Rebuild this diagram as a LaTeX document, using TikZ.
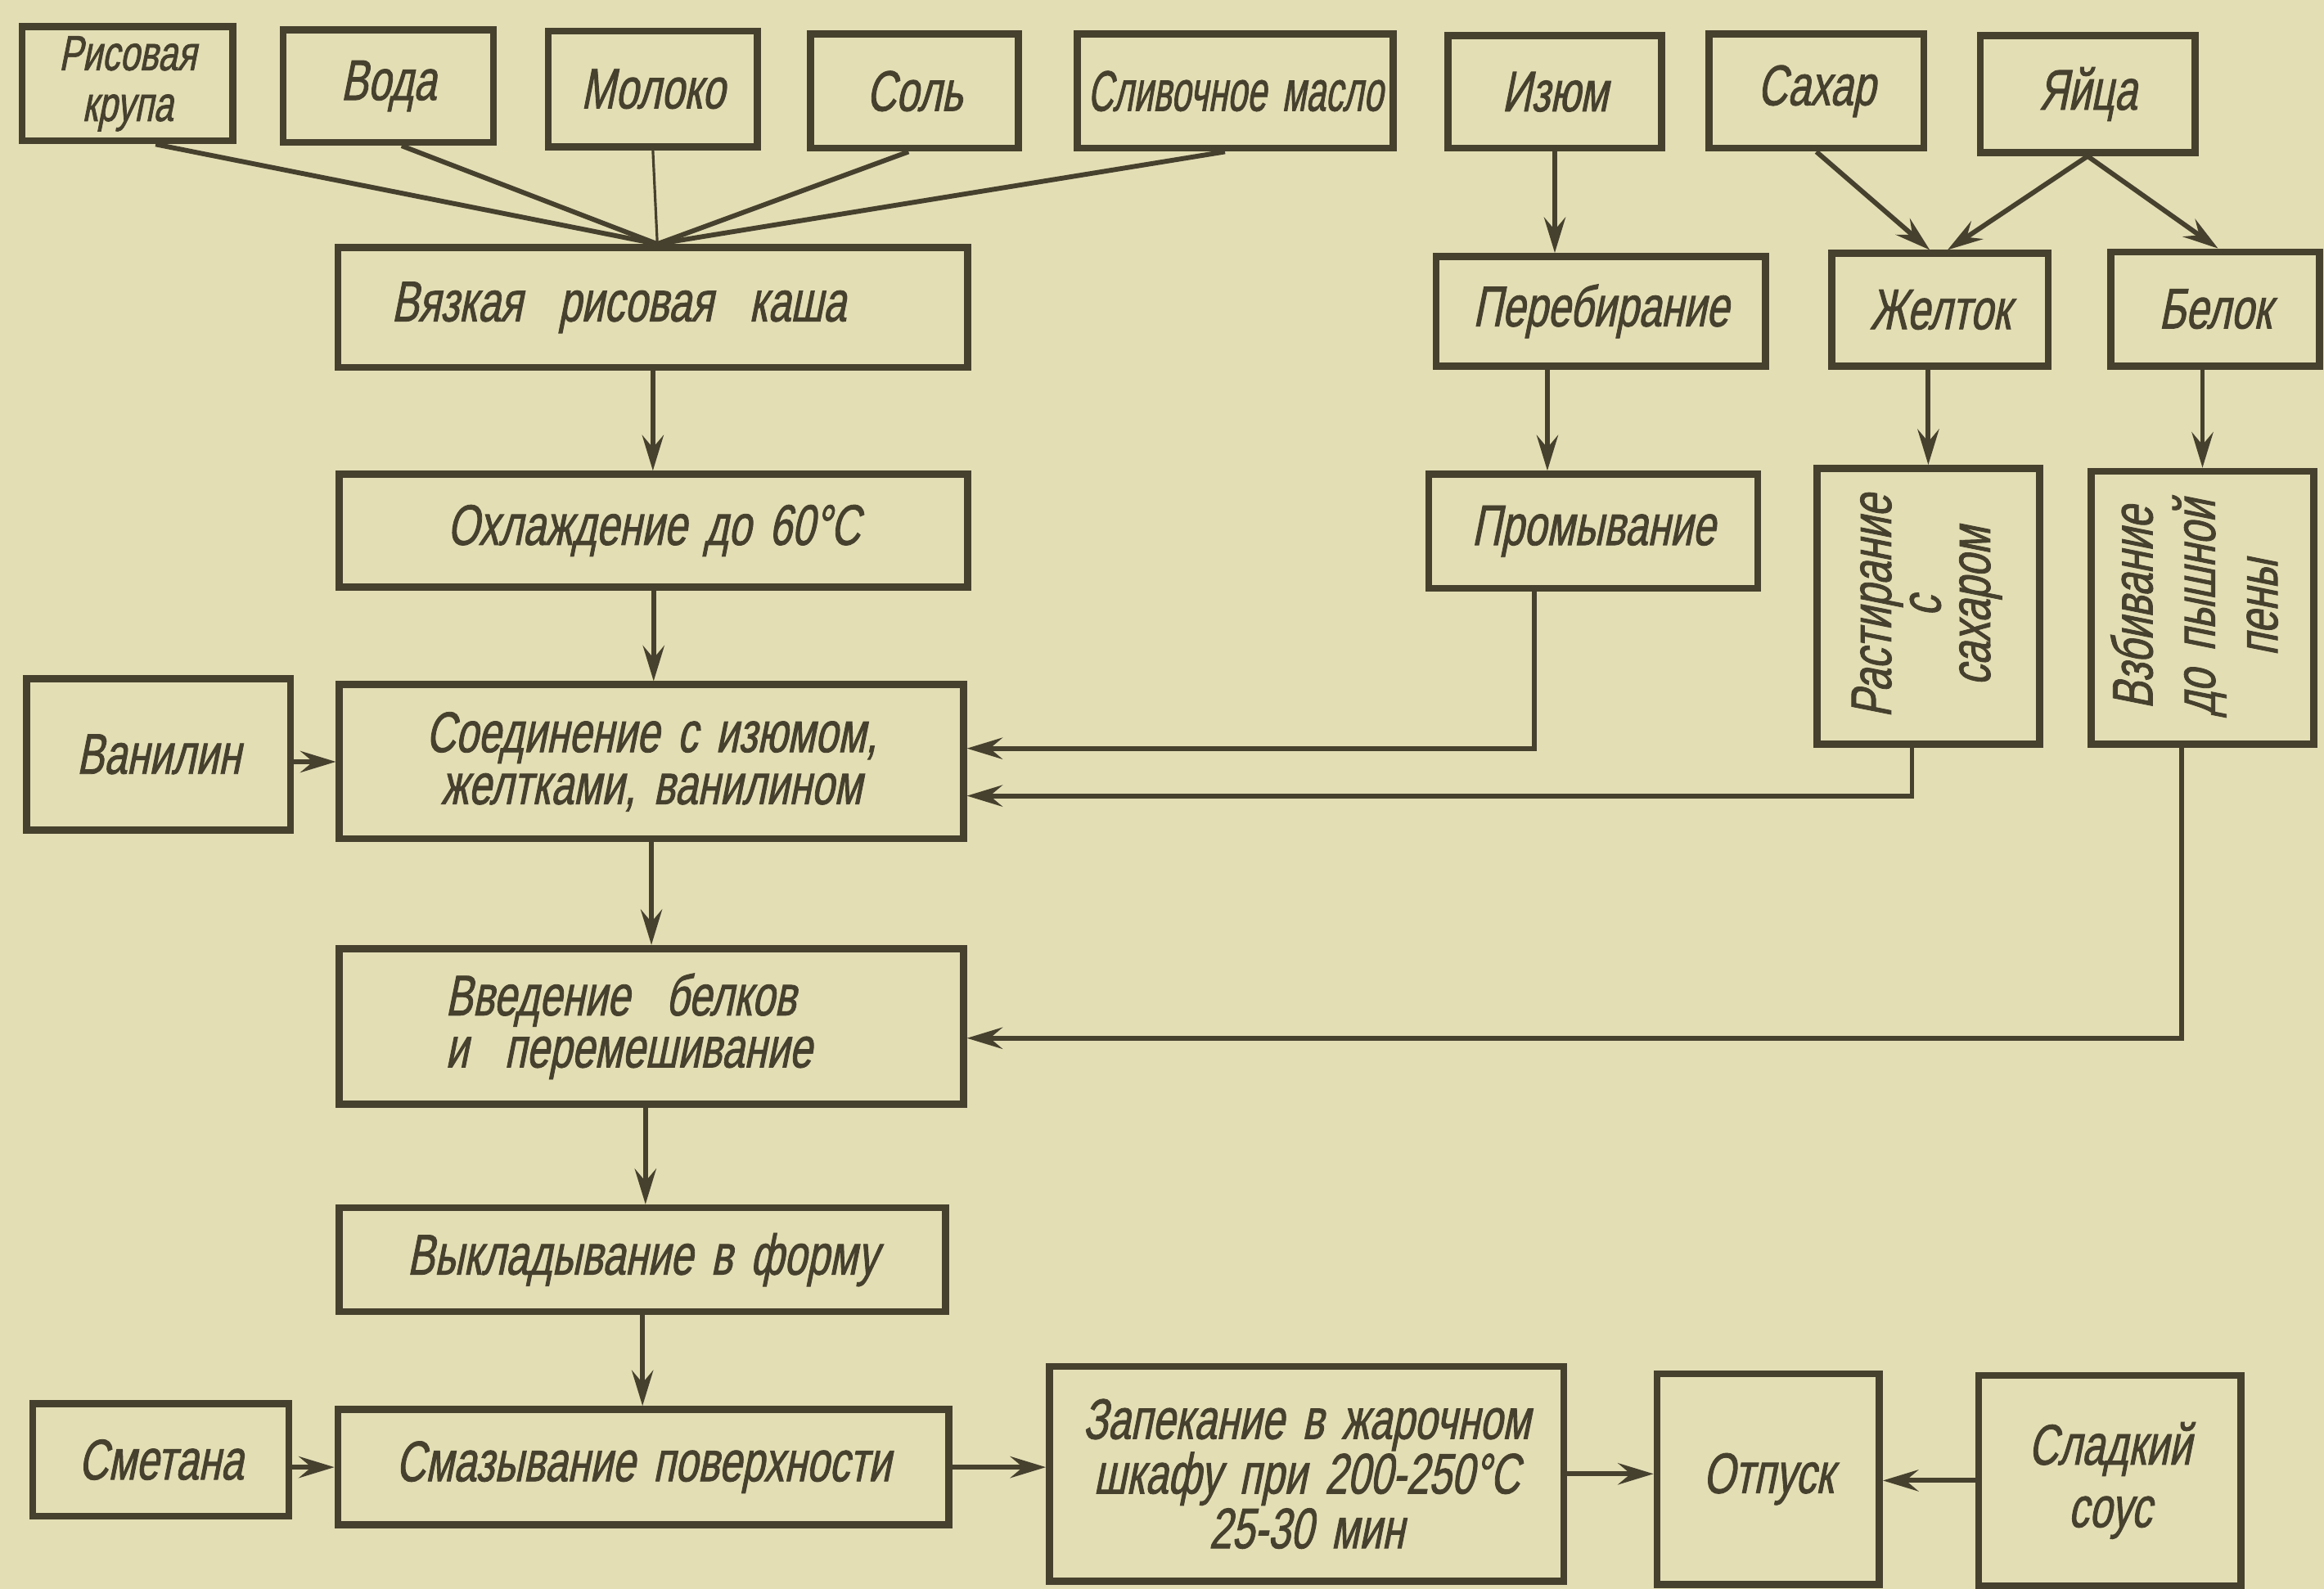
\documentclass[tikz,border=0pt]{standalone}
\usepackage{fontspec}
\newfontfamily\draftfont{Liberation Sans}[FakeStretch=0.71,FakeSlant=0.2,FakeBold=1.2,WordSpace=1.6]
\usetikzlibrary{calc,arrows.meta}
\definecolor{paper}{RGB}{227,222,180}
\definecolor{ink}{RGB}{70,64,46}

\tikzset{
  box/.style={draw=ink, line width=0.095cm, inner sep=0pt,
    font={\draftfont\fontsize{22}{20}\selectfont}, text=ink, align=center},
  link/.style={draw=ink, line width=0.065cm},
  arr/.style={link, -{Stealth[length=0.48cm,width=0.29cm,inset=0.17cm]}},
}

% box given by its corners (x1,y1) and (x2,y2) in picture units
\newcommand\bx[7][]{%
  \pgfmathsetmacro\bxw{(#5-#3)*0.02}%
  \pgfmathsetmacro\bxh{(#6-#4)*0.02}%
  \node[box,#1,minimum width=\bxw cm,minimum height=\bxh cm]
    (#2) at ({(#3+#5)/2},{(#4+#6)/2}) {#7};}

\begin{document}
\begin{tikzpicture}[x=0.02cm, y=-0.02cm]
\fill[paper] (0,0) rectangle (1568,1072);
\useasboundingbox (0,0) rectangle (1568,1072);

% raw materials
\bx[font={\draftfont\fontsize{19}{19.5}\selectfont}]{rice}{15}{18}{157}{95}{Рисовая\\крупа}
\bx{voda}{191}{20}{333}{96}{Вода}
\bx{moloko}{370}{21}{511}{99}{Молоко}
\bx{sol}{547}{23}{687}{100}{Соль}
\bx{maslo}{727}{23}{940}{100}{\scalebox{0.86}[1]{Сливочное масло}}
\bx{izum}{977}{24}{1121}{100}{Изюм}
\bx{sahar}{1153}{23}{1298}{100}{Сахар}
\bx{yaica}{1336}{24}{1481}{103}{Яйца}

% second row
\bx{kasha}{228}{167}{653}{248}{Вязкая~~рисовая~~каша\hspace*{1.2em}}
\bx{perebir}{969}{173}{1191}{247}{Перебирание}
\bx{zheltok}{1236}{171}{1382}{247}{Желток}
\bx{belok}{1424}{170}{1565}{247}{Белок}

% third row
\bx{ohl}{229}{320}{653}{396}{Охлаждение до 60°C}
\bx{promyv}{964}{320}{1186}{397}{Промывание}
\bx{rast}{1226}{316}{1376}{502}{\rotatebox{90}{\fontsize{22}{19}\selectfont
  \begin{tabular}{@{}c@{}}Растирание\\с\\сахаром\end{tabular}}}
\bx{vzb}{1411}{318}{1561}{502}{\rotatebox{90}{\fontsize{22}{24}\selectfont
  \begin{tabular}{@{}c@{}}Взбивание\\до пышной\\пены\end{tabular}}}

% main line
\bx{vanil}{18}{458}{196}{560}{Ванилин}
\bx{soed}{229}{462}{650}{566}{Соединение с изюмом,\\желтками, ванилином}
\bx[align=left]{vved}{229}{640}{650}{745}{Введение~~белков\\и~~перемешивание\hspace*{0.8em}}
\bx{vykl}{229}{815}{638}{885}{Выкладывание в форму}

% bottom row
\bx{smetana}{22}{947}{195}{1023}{Сметана}
\bx{smaz}{228}{951}{640}{1029}{Смазывание поверхности}
\bx[font={\draftfont\fontsize{22}{21}\selectfont}]{zapek}{708}{922}{1055}{1067}{Запекание в жарочном\\шкафу при 200-250°C\\25-30 мин}
\bx{otpusk}{1118}{927}{1268}{1069}{Отпуск}
\bx[font={\draftfont\fontsize{22}{24}\selectfont}]{sous}{1335}{928}{1512}{1070}{Сладкий\\соус}

% ingredients gathered into the porridge
\coordinate (fan) at ($(kasha.north)+(3,0)$);
\draw[link] ($(rice.south)+(19,0)$) -- (fan);
\draw[link] ($(voda.south)+(9,0)$) -- (fan);
\draw[link, line width=0.035cm] (moloko.south) -- (fan);
\draw[link] ($(sol.south)+(-4,0)$) -- (fan);
\draw[link] ($(maslo.south)+(-7,0)$) -- (fan);

% raisins and eggs
\draw[arr] (izum.south) -- (izum.south |- perebir.north);
\draw[arr] ($(izum.south |- perebir.south)+(-5,0)$) -- ($(izum.south |- promyv.north)+(-5,0)$);
\draw[arr] (sahar.south) -- ($(zheltok.north)+(-7,0)$);
\draw[arr] (yaica.south) -- ($(zheltok.north)+(5,0)$);
\draw[arr] (yaica.south) -- ($(belok.north)+(2,0)$);
\draw[arr] (zheltok.south -| rast.north) -- (rast.north);
\draw[arr] (belok.south -| vzb.north) -- (vzb.north);

% main sequence
\draw[arr] (kasha.south) -- (kasha.south |- ohl.north);
\draw[arr] (ohl.south) -- (ohl.south |- soed.north);
\draw[arr] (vanil.east |- soed.west) -- (soed.west);
\draw[arr] ($(promyv.south)+(-40,0)$) |- ($(soed.east)+(0,-9)$);
\draw[arr] ($(rast.south)+(-11,0)$) |- ($(soed.east)+(0,23)$);
\draw[arr] ($(vzb.south)+(-14,0)$) |- ($(vved.east)+(0,8)$);
\draw[arr] (soed.south) -- (soed.south |- vved.north);
\coordinate (vvedout) at ($(vved.south)+(-4,0)$);
\draw[arr] (vvedout) -- (vvedout |- vykl.north);
\draw[arr] (vykl.south) -- (vykl.south |- smaz.north);
\draw[arr] (smetana.east |- smaz.west) -- (smaz.west);
\draw[arr] (smaz.east) -- (smaz.east -| zapek.west);
\draw[arr] (zapek.east) -- (zapek.east -| otpusk.west);
\draw[arr] (sous.west) -- (sous.west -| otpusk.east);
\end{tikzpicture}
\end{document}
